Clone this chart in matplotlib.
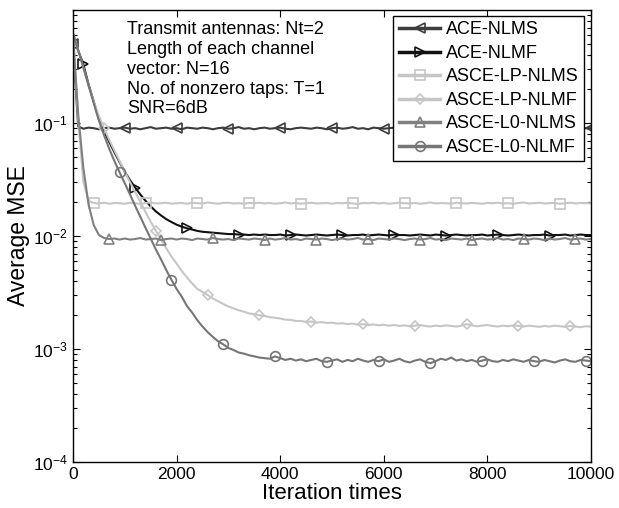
import matplotlib
matplotlib.use('Agg')
import matplotlib.pyplot as plt
from matplotlib.ticker import LogLocator, NullFormatter

# iteration grid (every 100 iterations)
iters = list(range(0, 10001, 100))

ace_nlms = [
    0.50, 0.093, 0.089, 0.091, 0.090, 0.088, 0.090, 0.091, 0.089, 0.090,
    0.091, 0.089, 0.090, 0.088, 0.090, 0.092, 0.089, 0.090, 0.091, 0.089,
    0.090, 0.088, 0.091, 0.090, 0.089, 0.091, 0.090, 0.088, 0.090, 0.091,
    0.089, 0.090, 0.092, 0.089, 0.090, 0.088, 0.090, 0.091, 0.089, 0.090,
    0.091, 0.089, 0.088, 0.090, 0.091, 0.090, 0.089, 0.091, 0.090, 0.088,
    0.090, 0.091, 0.089, 0.090, 0.092, 0.089, 0.090, 0.088, 0.091, 0.090,
    0.089, 0.090, 0.091, 0.088, 0.090, 0.089, 0.091, 0.090, 0.089, 0.092,
    0.090, 0.088, 0.090, 0.091, 0.089, 0.090, 0.091, 0.089, 0.088, 0.090,
    0.091, 0.090, 0.089, 0.091, 0.088, 0.090, 0.092, 0.089, 0.090, 0.091,
    0.089, 0.090, 0.088, 0.091, 0.090, 0.089, 0.091, 0.090, 0.088, 0.090,
    0.090]

ace_nlmf = [
    0.62, 0.44, 0.33, 0.22, 0.155, 0.108, 0.085, 0.068, 0.055, 0.045,
    0.037, 0.0312, 0.0268, 0.0233, 0.0205, 0.0183, 0.0165, 0.0152, 0.0141, 0.0133,
    0.0126, 0.0121, 0.0117, 0.0114, 0.0111, 0.0109, 0.0108, 0.0107, 0.0106, 0.0105,
    0.0104, 0.0104, 0.0103, 0.0103, 0.0102, 0.0103, 0.0102, 0.0103, 0.0102, 0.0102,
    0.0103, 0.0101, 0.0102, 0.0103, 0.0102, 0.0101, 0.0102, 0.0103, 0.0102, 0.0101,
    0.0102, 0.0103, 0.0102, 0.0101, 0.0102, 0.0102, 0.0103, 0.0101, 0.0102, 0.0103,
    0.0102, 0.0101, 0.0103, 0.0102, 0.0102, 0.0101, 0.0102, 0.0103, 0.0102, 0.0101,
    0.0103, 0.0102, 0.0101, 0.0102, 0.0103, 0.0102, 0.0101, 0.0102, 0.0102, 0.0103,
    0.0101, 0.0102, 0.0103, 0.0102, 0.0101, 0.0102, 0.0103, 0.0102, 0.0101, 0.0102,
    0.0102, 0.0103, 0.0101, 0.0102, 0.0102, 0.0103, 0.0101, 0.0102, 0.0103, 0.0102,
    0.0102]

lp_nlms = [
    0.60, 0.11, 0.030, 0.0205, 0.0196, 0.0194, 0.0197, 0.0193, 0.0196, 0.0195,
    0.0193, 0.0197, 0.0195, 0.0192, 0.0196, 0.0198, 0.0194, 0.0195, 0.0197, 0.0193,
    0.0195, 0.0196, 0.0193, 0.0197, 0.0195, 0.0194, 0.0198, 0.0195, 0.0193, 0.0196,
    0.0197, 0.0194, 0.0195, 0.0193, 0.0196, 0.0195, 0.0197, 0.0194, 0.0196, 0.0193,
    0.0195, 0.0198, 0.0194, 0.0196, 0.0193, 0.0195, 0.0197, 0.0194, 0.0195, 0.0196,
    0.0193, 0.0196, 0.0195, 0.0197, 0.0194, 0.0192, 0.0196, 0.0195, 0.0197, 0.0194,
    0.0196, 0.0193, 0.0195, 0.0197, 0.0195, 0.0194, 0.0196, 0.0193, 0.0195, 0.0198,
    0.0194, 0.0196, 0.0195, 0.0193, 0.0197, 0.0195, 0.0194, 0.0196, 0.0195, 0.0193,
    0.0196, 0.0195, 0.0197, 0.0194, 0.0195, 0.0193, 0.0196, 0.0198, 0.0194, 0.0195,
    0.0197, 0.0194, 0.0195, 0.0196, 0.0193, 0.0195, 0.0197, 0.0194, 0.0196, 0.0195,
    0.0195]

lp_nlmf = [
    0.62, 0.44, 0.31, 0.215, 0.155, 0.115, 0.090, 0.071, 0.057, 0.046,
    0.037, 0.030, 0.0245, 0.0200, 0.0163, 0.0134, 0.0111, 0.0093, 0.0078, 0.0066,
    0.0057, 0.0049, 0.0043, 0.0038, 0.0034, 0.0032, 0.0030, 0.0028, 0.00265, 0.0025,
    0.00238, 0.00229, 0.0022, 0.00214, 0.00206, 0.00203, 0.00199, 0.00196, 0.00191, 0.00189,
    0.00186, 0.00182, 0.00181, 0.00177, 0.00177, 0.00174, 0.00175, 0.00171, 0.00173, 0.00170,
    0.00171, 0.00168, 0.00169, 0.00166, 0.00168, 0.00164, 0.00166, 0.00163, 0.00165, 0.00162,
    0.00164, 0.00161, 0.00163, 0.00160, 0.00162, 0.00159, 0.00161, 0.00163, 0.00160, 0.00158,
    0.00161, 0.00159, 0.00162, 0.00160, 0.00158, 0.00161, 0.00166, 0.00162, 0.00159, 0.00161,
    0.00163, 0.00160, 0.00158, 0.00161, 0.00159, 0.00162, 0.00160, 0.00158, 0.00161, 0.00159,
    0.00157, 0.00160, 0.00158, 0.00161, 0.00159, 0.00157, 0.00160, 0.00158, 0.00156, 0.00159,
    0.00158]

l0_nlms = [
    0.60, 0.12, 0.040, 0.019, 0.0125, 0.0102, 0.0096, 0.0094, 0.0095, 0.0093,
    0.0095, 0.0093, 0.0094, 0.0096, 0.0093, 0.0094, 0.0095, 0.0092, 0.0094, 0.0095,
    0.0093, 0.0095, 0.0094, 0.0092, 0.0095, 0.0094, 0.0093, 0.0096, 0.0094, 0.0093,
    0.0094, 0.0092, 0.0095, 0.0094, 0.0093, 0.0095, 0.0094, 0.0092, 0.0095, 0.0093,
    0.0094, 0.0096, 0.0093, 0.0094, 0.0092, 0.0095, 0.0094, 0.0093, 0.0095, 0.0094,
    0.0092, 0.0094, 0.0095, 0.0093, 0.0094, 0.0096, 0.0093, 0.0094, 0.0092, 0.0095,
    0.0094, 0.0093, 0.0095, 0.0094, 0.0092, 0.0094, 0.0095, 0.0093, 0.0094, 0.0096,
    0.0093, 0.0094, 0.0092, 0.0095, 0.0094, 0.0093, 0.0095, 0.0092, 0.0094, 0.0095,
    0.0093, 0.0094, 0.0096, 0.0093, 0.0094, 0.0092, 0.0095, 0.0094, 0.0093, 0.0095,
    0.0094, 0.0092, 0.0095, 0.0093, 0.0094, 0.0096, 0.0093, 0.0094, 0.0095, 0.0093,
    0.0094]

l0_nlmf = [
    0.62, 0.44, 0.31, 0.215, 0.15, 0.105, 0.078, 0.059, 0.046, 0.0365,
    0.0293, 0.0233, 0.0185, 0.0148, 0.0118, 0.0095, 0.0076, 0.0062, 0.0050, 0.0041,
    0.0034, 0.0029, 0.0024, 0.0021, 0.0018, 0.00158, 0.00141, 0.00128, 0.00117, 0.00110,
    0.00102, 0.00098, 0.00093, 0.00091, 0.00088, 0.00086, 0.00084, 0.00083, 0.00082, 0.00086,
    0.00083, 0.00080, 0.00082, 0.00079, 0.00081, 0.00078, 0.00080, 0.00082, 0.00078, 0.00077,
    0.00079, 0.00081, 0.00077, 0.00080, 0.00078, 0.00082, 0.00079, 0.00077, 0.00080, 0.00078,
    0.00081, 0.00077, 0.00079, 0.00082, 0.00078, 0.00076, 0.00079, 0.00081, 0.00077, 0.00075,
    0.00078, 0.00082, 0.00080, 0.00084, 0.00079, 0.00081, 0.00078, 0.00080, 0.00077, 0.00079,
    0.00081, 0.00078, 0.00077, 0.00080, 0.00078, 0.00081, 0.00079, 0.00077, 0.00080, 0.00078,
    0.00077, 0.00080, 0.00078, 0.00076, 0.00079, 0.00081, 0.00078, 0.00077, 0.00080, 0.00079,
    0.00078]

labels = ['ACE-NLMS', 'ACE-NLMF', 'ASCE-LP-NLMS', 'ASCE-LP-NLMF',
          'ASCE-L0-NLMS', 'ASCE-L0-NLMF']

plt.rcParams['font.family'] = ['Liberation Sans', 'DejaVu Sans']
plt.rcParams['mathtext.fontset'] = 'custom'
plt.rcParams['mathtext.rm'] = 'Liberation Sans'
plt.rcParams['mathtext.it'] = 'Liberation Sans:italic'
plt.rcParams['mathtext.bf'] = 'Liberation Sans:bold'

fig = plt.figure(figsize=(6.19, 5.08), dpi=100)
ax = fig.add_axes([73/619, 46/508, 518/619, 452/508])

# (data, colour, marker, first marker index)
series = [
    (ace_nlms, '#3c3c3c', '<', 0),
    (ace_nlmf, '#111111', '>', 2),
    (lp_nlms, '#c6c6c6', 's', 4),
    (lp_nlmf, '#c6c6c6', 'D', 6),
    (l0_nlms, '#808080', '^', 7),
    (l0_nlmf, '#767676', 'o', 9),
]

for (vals, col, mk, start), lab in zip(series, labels):
    ms = 5 if mk == 'D' else 7
    ax.semilogy(iters, vals, color=col, lw=1.5, marker=mk, ms=ms,
                mfc='none', mec=col, mew=1.2, markevery=(start, 10), label=lab)

ax.set_xlim(0, 10000)
ax.set_ylim(1e-4, 1e0)
ax.set_xticks([0, 2000, 4000, 6000, 8000, 10000])
ax.set_yticks([1e-4, 1e-3, 1e-2, 1e-1])
ax.yaxis.set_minor_locator(LogLocator(base=10, subs=[2, 3, 4, 5, 6, 7, 8, 9]))
ax.yaxis.set_minor_formatter(NullFormatter())
ax.tick_params(which='both', direction='in', top=True, right=True,
               labelsize=12.5, width=0.8)
ax.tick_params(which='major', length=5)
ax.tick_params(which='minor', length=3)
for s in ax.spines.values():
    s.set_linewidth(1.0)

ax.set_xlabel('Iteration times', fontsize=16, labelpad=1)
ax.set_ylabel('Average MSE', fontsize=16.5, labelpad=2)

fig.text(127/619, 1 - 21/508,
         'Transmit antennas: Nt=2\nLength of each channel\nvector: N=16\n'
         'No. of nonzero taps: T=1\nSNR=6dB',
         fontsize=13, va='top', ha='left', linespacing=1.22)

leg = ax.legend(loc='upper right', bbox_to_anchor=(584/619, 1 - 16/508),
                bbox_transform=fig.transFigure, borderaxespad=0,
                fontsize=13, fancybox=False, framealpha=1, edgecolor='black',
                handlelength=2.3, handletextpad=0.3, labelspacing=0.36,
                borderpad=0.3)
leg.get_frame().set_linewidth(1.0)
for h in leg.legend_handles:
    h.set_linewidth(2.5)

plt.savefig('out.png', dpi=100)
